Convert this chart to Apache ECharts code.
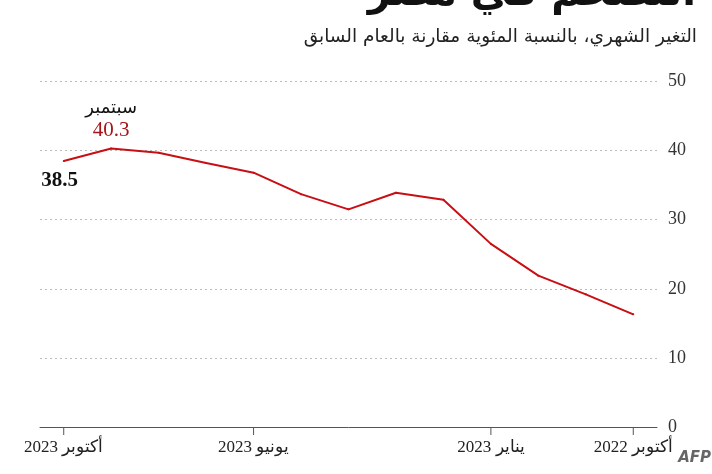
<!DOCTYPE html>
<html><head><meta charset="utf-8">
<script src="https://cdn.jsdelivr.net/npm/echarts@6/dist/echarts.min.js"></script>
<style>html,body{margin:0;padding:0;background:#fff}#c{width:712px;height:474px}</style>
</head><body><div id="c"></div>
<script>
const categories = ['أكتوبر 2022','نوفمبر 2022','ديسمبر 2022','يناير 2023','فبراير 2023','مارس 2023','أبريل 2023','مايو 2023','يونيو 2023','يوليو 2023','أغسطس 2023','سبتمبر 2023','أكتوبر 2023'];
const values = [16.3,19.2,21.9,26.5,32.9,33.9,31.5,33.7,36.8,38.2,39.7,40.3,38.5];
const shownLabels = ['أكتوبر 2022','يناير 2023','يونيو 2023','أكتوبر 2023'];
const titleText = 'التضخم في مصر';
const subtitleText = 'التغير الشهري، بالنسبة المئوية مقارنة بالعام السابق';
const peakName = 'سبتمبر';

const SERIF = '"Liberation Serif", "DejaVu Serif", serif';
const RED = '#c80f14';

const seriesData = values.map((v, i) => {
  const item = { value: v };
  if (i === 11) {
    item.label = {
      show: true, position: 'top', distance: 6,
      formatter: '{m|' + peakName + '}\n{v|' + v.toFixed(1) + '}',
      rich: {
        m: { fontFamily: '"DejaVu Sans", sans-serif', fontSize: 18, color: '#111', lineHeight: 23 },
        v: { fontFamily: SERIF, fontSize: 21, color: '#a8141b', lineHeight: 22 }
      }
    };
  }
  if (i === 12) {
    item.label = {
      show: true, position: 'bottom', distance: 8, offset: [-4, 0],
      formatter: v.toFixed(1),
      fontFamily: SERIF, fontSize: 21, fontWeight: 'bold', color: '#111'
    };
  }
  return item;
});

const shownIdx = categories.map((c, i) => shownLabels.includes(c) ? i : -1).filter(i => i >= 0);
const tickData = shownIdx.map(i => [i, 0]);

const chart = echarts.init(document.getElementById('c'), null, { renderer: 'canvas' });
chart.setOption({
  animation: false,
  backgroundColor: '#fff',
  graphic: [
    { type: 'text', right: 16, top: -25, style: { text: titleText, font: 'bold 40px "DejaVu Sans", sans-serif', fill: '#111' } },
    { type: 'text', right: 15, top: 28, style: { text: subtitleText, font: '18.5px "DejaVu Sans", sans-serif', fill: '#222' } },
    { type: 'text', right: 1, top: 451, style: { text: 'AFP', font: 'italic bold 15px "DejaVu Sans", sans-serif', fill: '#666' } }
  ],
  grid: { left: 40, right: 55, top: 81.5, bottom: 47 },
  xAxis: {
    type: 'category',
    data: categories,
    inverse: true,
    boundaryGap: true,
    axisLine: { lineStyle: { color: '#555', width: 1 } },
    axisTick: { show: false },
    axisLabel: { interval: (idx) => shownIdx.includes(idx), margin: 12, fontFamily: SERIF, fontSize: 17, color: '#222' }
  },
  yAxis: {
    type: 'value',
    position: 'right',
    min: 0, max: 50, interval: 10,
    axisLine: { show: false },
    axisTick: { show: false },
    axisLabel: { margin: 11, fontFamily: SERIF, fontSize: 18, color: '#333', padding: [0, 0, 5, 0] },
    splitLine: { lineStyle: { type: [2, 3], color: '#bbb', width: 1 } }
  },
  series: [{
    type: 'line',
    data: seriesData,
    symbol: 'circle',
    symbolSize: 2,
    showSymbol: true,
    lineStyle: { color: RED, width: 2 },
    itemStyle: { color: RED, borderWidth: 0 },
    label: { show: false },
    z: 3
  }, {
    type: 'custom',
    silent: true,
    clip: false,
    data: tickData,
    encode: { x: 0, y: 1 },
    renderItem: (params, api) => {
      const p = api.coord([api.value(0), api.value(1)]);
      return { type: 'line', shape: { x1: p[0], y1: p[1], x2: p[0], y2: p[1] + 8 }, style: { stroke: '#555', lineWidth: 1 } };
    },
    z: 2
  }]
});
</script></body></html>
